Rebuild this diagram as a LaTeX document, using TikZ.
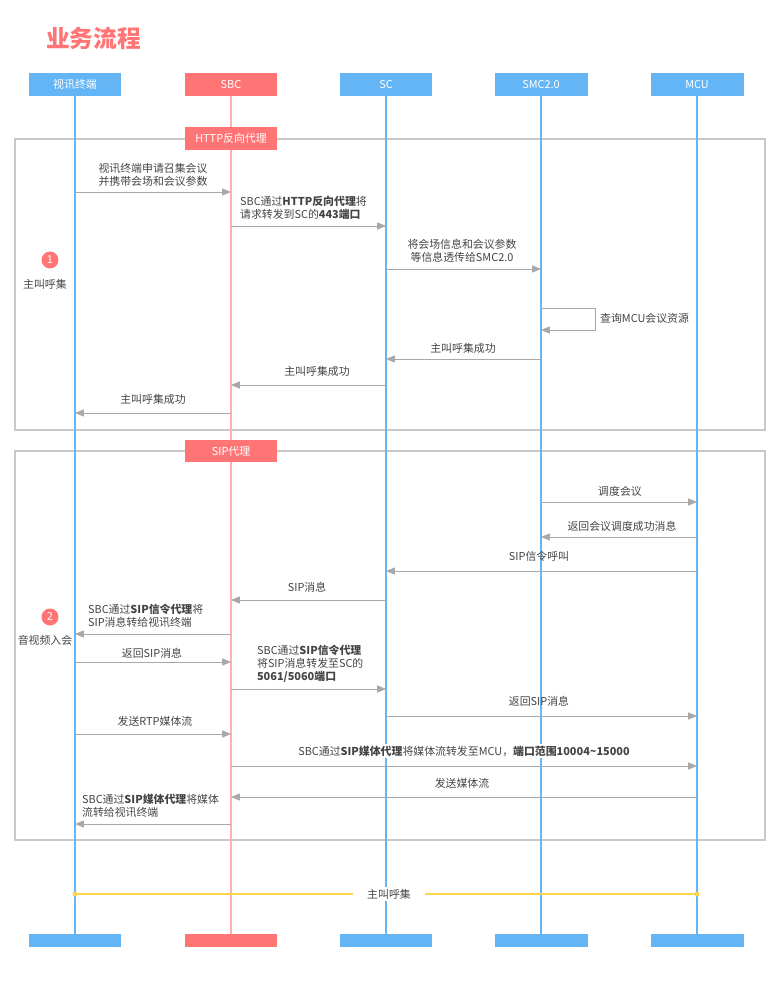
\documentclass[tikz,border=0pt]{standalone}
\usepackage{fontspec}
\setmainfont{Noto Sans CJK SC}
\usetikzlibrary{arrows.meta}
\definecolor{lblue}{HTML}{64B5F6}
\definecolor{lred}{HTML}{FF7474}
\definecolor{lpink}{HTML}{FFB0B0}
\definecolor{agray}{HTML}{A8A8A8}
\definecolor{fgray}{HTML}{C8C8C8}
\definecolor{ltxt}{HTML}{444444}
\definecolor{lyel}{HTML}{FFD54F}
\tikzset{
  head/.style={minimum width=1.86cm, minimum height=0.46cm, inner sep=0, text=white},
  foot/.style={minimum width=1.86cm, minimum height=0.26cm, inner sep=0},
  msg/.style={agray, -{Triangle[length=5pt,width=4pt]}},
  lbl/.style={text=ltxt, inner sep=1pt, align=center},
  lbll/.style={text=ltxt, inner sep=1pt, align=left},
  frame/.style={fgray, line width=0.8pt},
  num/.style={circle, fill=lred, text=white, inner sep=0, minimum size=0.34cm}
}
\begin{document}
\begin{tikzpicture}[x=0.02cm, y=-0.02cm, font=\fontsize{6.2}{7.6}\selectfont]
\useasboundingbox (0,0) rectangle (780,999);
%title
\node[anchor=west, text=lred, font=\fontsize{13.5}{15}\selectfont\bfseries] (title) at (40,38) {业务流程};
%frames
\draw[frame] (15,139) rectangle (765,430);
\draw[frame] (15,451) rectangle (765,840);
%lifelines
\foreach \n/\x/\t/\c/\l in {vt/75/视讯终端/lblue/lblue, sbc/231/SBC/lred/lpink, sc/386/SC/lblue/lblue, smc/541/SMC2.0/lblue/lblue, mcu/697/MCU/lblue/lblue}
{
  \node[head, fill=\c] (\n) at (\x,84.5) {\t};
  \node[foot, fill=\c] (\n f) at (\x,940.5) {};
  \draw[\l, line width=0.6pt] (\n) -- (\n f);
}
%frame labels
\node[head, fill=lred] (http) at (231,138.5) {HTTP反向代理};
\node[head, fill=lred] (sip) at (231,451) {SIP代理};
%phase 1
\node[num] (n1) at (50,260) {1};
\node[lbl] (p1) at (45,284) {主叫呼集};
\draw[msg] (vt |- 0,192) -- (sbc |- 0,192);
\node[lbl, anchor=south] at (153,189) {视讯终端申请召集会议\\并携带会场和会议参数};
\draw[msg] (sbc |- 0,226) -- (sc |- 0,226);
\node[lbll, anchor=south west] at (238,222) {SBC通过\textbf{HTTP反向代理}将\\请求转发到SC的\textbf{443端口}};
\draw[msg] (sc |- 0,269) -- (smc |- 0,269);
\node[lbl, anchor=south] at (462,265) {将会场信息和会议参数\\等信息透传给SMC2.0};
\draw[msg] (smc |- 0,308) -- (595,308) -- (595,330) -- (smc |- 0,330);
\node[lbll, anchor=west] at (598,318) {查询MCU会议资源};
\draw[msg] (smc |- 0,359) -- (sc |- 0,359);
\node[lbl] at (463,348) {主叫呼集成功};
\draw[msg] (sc |- 0,385) -- (sbc |- 0,385);
\node[lbl] at (317,371) {主叫呼集成功};
\draw[msg] (sbc |- 0,413) -- (vt |- 0,413);
\node[lbl] at (153,399) {主叫呼集成功};
%phase 2
\node[num] (n2) at (50,617) {2};
\node[lbl] (p2) at (45,640) {音视频入会};
\draw[msg] (smc |- 0,502) -- (mcu |- 0,502);
\node[lbl] at (620,491) {调度会议};
\draw[msg] (mcu |- 0,537) -- (smc |- 0,537);
\node[lbl] at (622,526) {返回会议调度成功消息};
\draw[msg] (mcu |- 0,571) -- (sc |- 0,571);
\node[lbl] at (539,556) {SIP信令呼叫};
\draw[msg] (sc |- 0,600) -- (sbc |- 0,600);
\node[lbl] at (307,587) {SIP消息};
\draw[msg] (sbc |- 0,634) -- (vt |- 0,634);
\node[lbll, anchor=south west] at (86,630) {SBC通过\textbf{SIP信令代理}将\\SIP消息转给视讯终端};
\draw[msg] (vt |- 0,662) -- (sbc |- 0,662);
\node[lbl] at (152,653) {返回SIP消息};
\draw[msg] (sbc |- 0,689) -- (sc |- 0,689);
\node[lbll, anchor=south west] at (255,685) {SBC通过\textbf{SIP信令代理}\\将SIP消息转发至SC的\\\textbf{5061/5060端口}};
\draw[msg] (sc |- 0,716) -- (mcu |- 0,716);
\node[lbl] at (539,701) {返回SIP消息};
\draw[msg] (vt |- 0,734) -- (sbc |- 0,734);
\node[lbl] at (155,721) {发送RTP媒体流};
\draw[msg] (sbc |- 0,766) -- (mcu |- 0,766);
\node[lbl, fill=white] at (464,751) {SBC通过\textbf{SIP媒体代理}将媒体流转发至MCU，\textbf{端口范围10004\textasciitilde15000}};
\draw[msg] (mcu |- 0,797) -- (sbc |- 0,797);
\node[lbl] at (462,783) {发送媒体流};
\draw[msg] (sbc |- 0,824) -- (vt |- 0,824);
\node[lbll, anchor=south west] at (80,820) {SBC通过\textbf{SIP媒体代理}将媒体\\流转给视讯终端};
%summary
\draw[lyel, line width=0.6pt] (vt |- 0,894) -- (mcu |- 0,894);
\fill[lyel] (vt |- 0,894) circle (2.5) (mcu |- 0,894) circle (2.5);
\node[lbl, fill=white, inner xsep=8pt] (sum) at (389,894) {主叫呼集};
\end{tikzpicture}
\end{document}
